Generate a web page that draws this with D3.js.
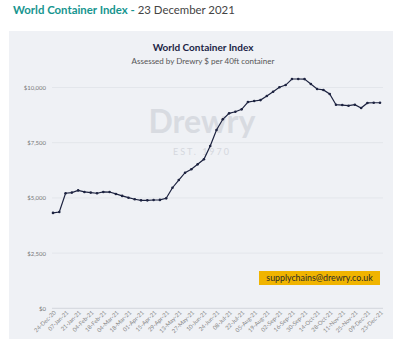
<!DOCTYPE html>
<html>
<head>
<meta charset="utf-8">
<script src="https://cdn.jsdelivr.net/npm/d3@7"></script>
<style>
  body { margin: 0; background: #fff; }
  svg { display: block; font-family: Lato, "Open Sans", sans-serif; }
</style>
</head>
<body>
<div id="chart"></div>
<script>
// weekly assessment dates
var weeks = [
  "24-Dec-20", "31-Dec-20", "07-Jan-21", "14-Jan-21", "21-Jan-21", "28-Jan-21",
  "04-Feb-21", "11-Feb-21", "18-Feb-21", "25-Feb-21", "04-Mar-21", "11-Mar-21",
  "18-Mar-21", "25-Mar-21", "01-Apr-21", "08-Apr-21", "15-Apr-21", "22-Apr-21",
  "29-Apr-21", "06-May-21", "13-May-21", "20-May-21", "27-May-21", "03-Jun-21",
  "10-Jun-21", "17-Jun-21", "24-Jun-21", "01-Jul-21", "08-Jul-21", "15-Jul-21",
  "22-Jul-21", "29-Jul-21", "05-Aug-21", "12-Aug-21", "19-Aug-21", "26-Aug-21",
  "02-Sep-21", "09-Sep-21", "16-Sep-21", "23-Sep-21", "30-Sep-21", "07-Oct-21",
  "14-Oct-21", "21-Oct-21", "28-Oct-21", "04-Nov-21", "11-Nov-21", "18-Nov-21",
  "25-Nov-21", "02-Dec-21", "09-Dec-21", "16-Dec-21", "23-Dec-21"
];

// composite index, $ per 40ft container
var wci = [
  4320, 4360, 5210, 5240, 5340, 5270, 5240, 5210, 5270, 5265, 5180, 5090,
  5010, 4940, 4890, 4890, 4905, 4910, 4980, 5460, 5810, 6140, 6300, 6520,
  6750, 7350, 8075, 8560, 8830, 8900, 9010, 9340, 9390, 9430, 9615, 9810,
  10010, 10110, 10385, 10385, 10380, 10160, 9930, 9890, 9705, 9220, 9205, 9175,
  9220, 9070, 9300, 9310, 9310
];

// every second week is labelled
var xTicks = weeks.filter(function(d, i) { return i % 2 === 0; });
var yTicks = [0, 2500, 5000, 7500, 10000];

var w = 400;
var h = 339;

var svg = d3.select("#chart")
  .append("svg")
  .attr("width", w)
  .attr("height", h);

// page heading
var head = svg.append("text")
  .attr("x", 13)
  .attr("y", 14)
  .style("font-size", "11.4px");
head.append("tspan")
  .attr("fill", "#17958f")
  .attr("font-weight", "bold")
  .text("World Container Index -");
head.append("tspan")
  .attr("fill", "#444")
  .text(" 23 December 2021");

// grey panel
svg.append("rect")
  .attr("x", 9)
  .attr("y", 31)
  .attr("width", 384)
  .attr("height", h - 31)
  .attr("fill", "#eff1f5");

// chart titles
svg.append("text")
  .attr("x", 203)
  .attr("y", 50.5)
  .attr("text-anchor", "middle")
  .attr("fill", "#1c1f45")
  .attr("font-weight", "bold")
  .style("font-size", "10px")
  .text("World Container Index");

svg.append("text")
  .attr("x", 203)
  .attr("y", 63.5)
  .attr("text-anchor", "middle")
  .attr("fill", "#555")
  .style("font-size", "8px")
  .text("Assessed by Drewry  $ per 40ft container");

// watermark
svg.append("text")
  .attr("x", 202)
  .attr("y", 133)
  .attr("text-anchor", "middle")
  .attr("fill", "#d8dbe1")
  .attr("font-weight", "bold")
  .style("font-size", "32px")
  .text("Drewry");

svg.append("text")
  .attr("x", 202)
  .attr("y", 155)
  .attr("text-anchor", "middle")
  .attr("fill", "#d5d8de")
  .style("font-size", "9px")
  .style("letter-spacing", "2px")
  .text("EST. 1970");

// scales
var xScale = d3.scalePoint()
  .domain(weeks)
  .range([53, 380]);

var yScale = d3.scaleLinear()
  .domain([0, 10000])
  .range([308.3, 87.5]);

// gridlines
svg.append("g")
  .selectAll("line")
  .data(yTicks)
  .enter()
  .append("line")
  .attr("x1", 52)
  .attr("x2", 383)
  .attr("y1", d => yScale(d))
  .attr("y2", d => yScale(d))
  .attr("stroke", d => d === 0 ? "#d3d6dc" : "#e3e6eb")
  .attr("stroke-width", 1);

// y axis labels
var yAxis = d3.axisLeft(yScale)
  .tickValues(yTicks)
  .tickSize(0)
  .tickPadding(0)
  .tickFormat(d => "$" + d3.format(",")(d));

svg.append("g")
  .attr("transform", "translate(46,0)")
  .call(yAxis)
  .call(g => g.select(".domain").remove())
  .selectAll("text")
  .attr("fill", "#777")
  .style("font-family", "Lato, sans-serif")
  .style("font-size", "6px");

// x axis labels
var xAxis = d3.axisBottom(xScale)
  .tickValues(xTicks)
  .tickSize(0)
  .tickPadding(0);

svg.append("g")
  .attr("transform", "translate(0,313)")
  .call(xAxis)
  .call(g => g.select(".domain").remove())
  .selectAll("text")
  .attr("fill", "#888")
  .style("font-family", "Lato, sans-serif")
  .style("font-size", "5.8px")
  .attr("text-anchor", "end")
  .attr("dx", "2")
  .attr("dy", "2")
  .attr("transform", "rotate(-45)");

// series line
var line = d3.line()
  .x((d, i) => xScale(weeks[i]))
  .y(d => yScale(d));

svg.append("path")
  .datum(wci)
  .attr("d", line)
  .attr("fill", "none")
  .attr("stroke", "#1d2340")
  .attr("stroke-width", 1.2);

svg.append("g")
  .selectAll("circle")
  .data(wci)
  .enter()
  .append("circle")
  .attr("cx", (d, i) => xScale(weeks[i]))
  .attr("cy", d => yScale(d))
  .attr("r", 1.3)
  .attr("fill", "#1d2340");

// contact badge
svg.append("rect")
  .attr("x", 259)
  .attr("y", 271)
  .attr("width", 121)
  .attr("height", 14)
  .attr("fill", "#f0b400");

svg.append("text")
  .attr("x", 319.5)
  .attr("y", 281.2)
  .attr("text-anchor", "middle")
  .attr("fill", "#2a2a2a")
  .style("font-size", "8.8px")
  .text("supplychains@drewry.co.uk");
</script>
</body>
</html>
